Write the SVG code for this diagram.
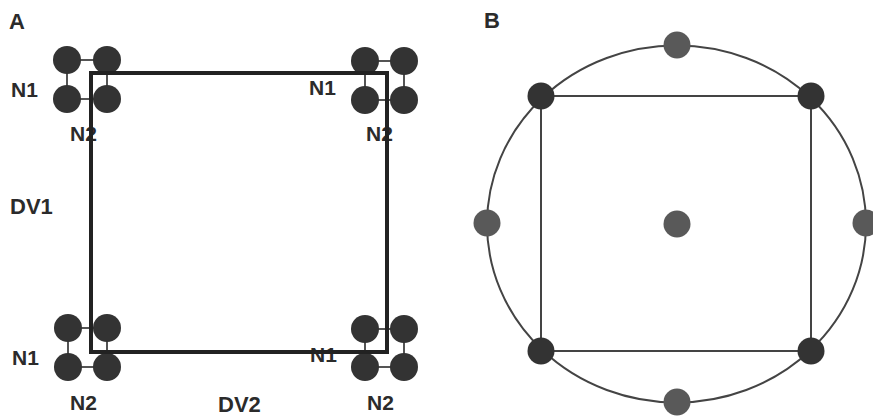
<svg xmlns="http://www.w3.org/2000/svg" width="873" height="418" viewBox="0 0 873 418">
<style>
.lbl{font-family:"Liberation Sans",Arial,sans-serif;font-weight:bold;font-size:21px;fill:#2b2b2b}
.dv{font-size:22px}
.thin{stroke:#2b2b2b;stroke-width:1.6;fill:none}
.nodeA{fill:#333}
.dark{fill:#333}
.gray{fill:#595959}
.thick{stroke:#222;stroke-width:4;fill:none}
.bline{stroke:#444;stroke-width:2;fill:none}
</style>
<rect width="873" height="418" fill="#fff"/>
<text class="lbl" x="9" y="29" style="font-size:22px">A</text>
<text class="lbl" x="484" y="28" style="font-size:22px">B</text>
<g id="connectors">
  <rect class="thin" x="67" y="60" width="40" height="39"/>
  <rect class="thin" x="365" y="61" width="39" height="39"/>
  <rect class="thin" x="68" y="328" width="39" height="39"/>
  <rect class="thin" x="365" y="329" width="39" height="38"/>
  <rect class="bline" x="541" y="96" width="270" height="255"/>
  <ellipse class="bline" cx="676.5" cy="224" rx="189.5" ry="178.5"/>
</g>
<g id="clusterTL">
  <circle class="nodeA" cx="67" cy="60" r="14"/>
  <circle class="nodeA" cx="107" cy="60" r="14"/>
  <circle class="nodeA" cx="67" cy="99" r="14"/>
  <circle class="nodeA" cx="107" cy="99" r="14"/>
  <text class="lbl" x="11" y="97">N1</text>
  <text class="lbl" x="70" y="141">N2</text>
</g>
<g id="clusterTR">
  <circle class="nodeA" cx="365" cy="61" r="14"/>
  <circle class="nodeA" cx="404" cy="61" r="14"/>
  <circle class="nodeA" cx="365" cy="100" r="14"/>
  <circle class="nodeA" cx="404" cy="100" r="14"/>
  <text class="lbl" x="309" y="95">N1</text>
  <text class="lbl" x="366" y="141">N2</text>
</g>
<g id="clusterBL">
  <circle class="nodeA" cx="68" cy="328" r="14"/>
  <circle class="nodeA" cx="107" cy="328" r="14"/>
  <circle class="nodeA" cx="68" cy="367" r="14"/>
  <circle class="nodeA" cx="107" cy="367" r="14"/>
  <text class="lbl" x="12" y="365">N1</text>
  <text class="lbl" x="70" y="410">N2</text>
</g>
<g id="clusterBR">
  <circle class="nodeA" cx="365" cy="329" r="14"/>
  <circle class="nodeA" cx="404" cy="329" r="14"/>
  <circle class="nodeA" cx="365" cy="367" r="14"/>
  <circle class="nodeA" cx="404" cy="367" r="14"/>
  <text class="lbl" x="310" y="362">N1</text>
  <text class="lbl" x="367" y="410">N2</text>
</g>
<g id="labelsA">
  <text class="lbl dv" x="10" y="214">DV1</text>
  <text class="lbl dv" x="218" y="412">DV2</text>
</g>
<g id="boxA">
  <rect class="thick" x="91" y="73" width="296" height="279"/>
</g>
<g id="b-corner-tl"><circle class="dark" cx="541" cy="96" r="13.5"/></g>
<g id="b-corner-tr"><circle class="dark" cx="811" cy="96" r="13.5"/></g>
<g id="b-corner-bl"><circle class="dark" cx="541" cy="351" r="13.5"/></g>
<g id="b-corner-br"><circle class="dark" cx="811" cy="351" r="13.5"/></g>
<g id="b-top"><circle class="gray" cx="677" cy="45" r="13.5"/></g>
<g id="b-bottom"><circle class="gray" cx="677" cy="402" r="13.5"/></g>
<g id="b-left"><circle class="gray" cx="487" cy="223" r="13.5"/></g>
<g id="b-right"><circle class="gray" cx="866" cy="223" r="13.5"/></g>
<g id="b-center"><circle class="gray" cx="677" cy="224" r="13.5"/></g>
</svg>
